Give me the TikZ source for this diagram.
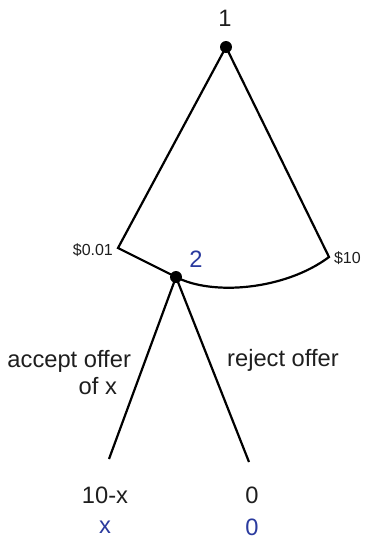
\documentclass[tikz,border=0pt]{standalone}
\usepackage{fontspec}
\setmainfont{Liberation Sans}
\usepackage{xcolor}
\usetikzlibrary{positioning, calc}
\definecolor{pltwo}{HTML}{2A3A9E}
\definecolor{ink}{HTML}{1E1E1E}

\begin{document}
\begin{tikzpicture}[x=1pt,y=-1pt,line width=2.2pt,
  player/.style={circle,fill=black,inner sep=0pt,minimum size=12pt},
  lbl/.style={text=ink,font=\fontsize{23.7}{27}\selectfont,inner sep=0pt},
  small/.style={text=ink,font=\fontsize{16}{18}\selectfont,inner sep=0pt},
  pay/.style={lbl,text=pltwo}]
  \useasboundingbox (0,0) rectangle (369,542);
  \node[player] (P1) at (226,47) {};
  \node[lbl] (n1) at (225,18) {1};
  \coordinate (L) at (118,248);
  \coordinate (R) at (329,257);
  \node[player] (P2) at (176,277) {};
  \node[pay] (n2) at (196,259) {2};
  \node[small,anchor=east] (lo) at (114,250) {\$0.01};
  \node[small,anchor=west] (hi) at (333,258) {\$10};
  % offer range
  \draw (P1.center) -- (L) -- (P2.center)
        .. controls (212,296) and (285,290) .. (R) -- (P1.center);
  % responses
  \coordinate (A) at (109,459);
  \coordinate (B) at (249,462);
  \draw (P2.center) -- (A);
  \draw (P2.center) -- (B);
  \node[lbl,align=right,anchor=east] (acc) at (132,373) {accept offer\\of x\hspace*{14pt}};
  \node[lbl] (rej) at (283,360) {reject offer};
  % payoffs
  \node[lbl] (a1) at (105,495) {10-x};
  \node[pay] (a2) at (105,527) {x};
  \node[lbl] (b1) at (252,495) {0};
  \node[pay] (b2) at (252,527) {0};
\end{tikzpicture}
\end{document}
